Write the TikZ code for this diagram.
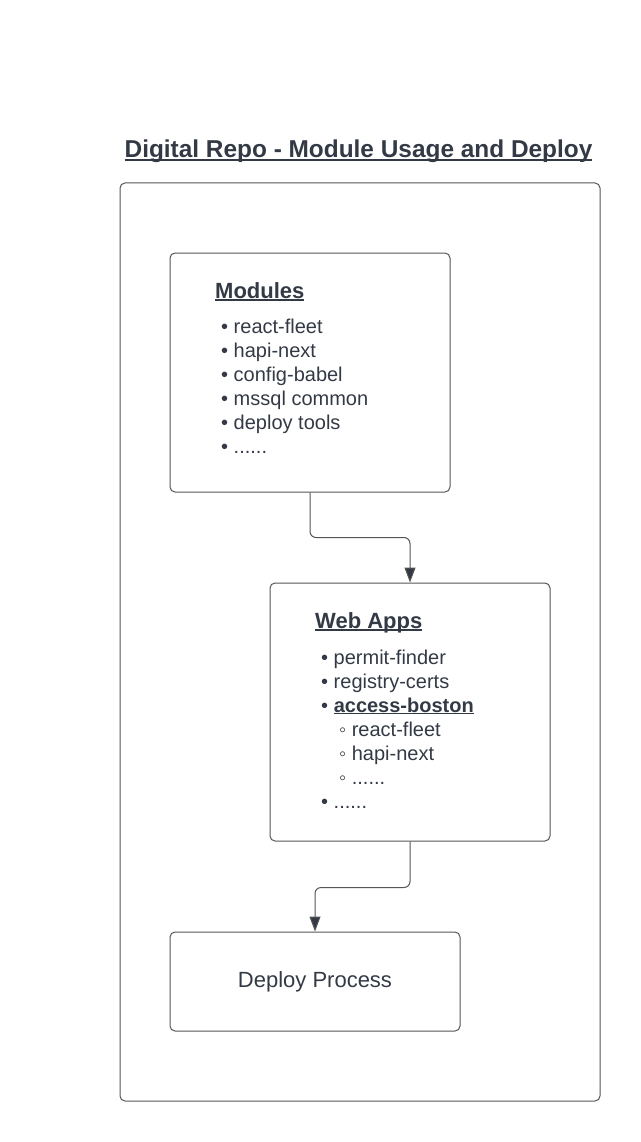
\documentclass[tikz,border=0pt]{standalone}
\usepackage{fontspec}
\setmainfont{Liberation Sans}
\usetikzlibrary{arrows.meta}
\definecolor{ink}{RGB}{51, 58, 69}
\definecolor{frame}{RGB}{85, 85, 85}
\newcommand{\ulined}[1]{\setbox0\hbox{#1}\rlap{\rule[-0.12em]{\wd0}{0.075em}}\box0}
\tikzset{
  panel/.style={draw=frame, line width=1pt, rounded corners=5pt, inner sep=0pt},
  heading/.style={anchor=base west, inner sep=0pt, text=ink, font=\fontsize{22}{26}\selectfont\bfseries},
  item/.style={anchor=base west, inner sep=0pt, text=ink, font=\fontsize{20}{24}\selectfont},
  link/.style={draw=frame, line width=1pt, rounded corners=6pt, -{Triangle[length=15pt, width=11pt, fill=ink]}}
}
\begin{document}
\begin{tikzpicture}[x=1pt, y=-1pt]
  \useasboundingbox (0, 0) rectangle (640, 1142);
  \node[anchor=base, inner sep=0pt, text=ink, font=\fontsize{24.4}{29}\selectfont\bfseries] (title) at (358.5, 158) {\ulined{Digital Repo - Module Usage and Deploy}};
  \node[panel, minimum width=480pt, minimum height=918pt] (outer) at (360, 642) {};
  % modules
  \node[panel, minimum width=280pt, minimum height=239pt] (mods) at (310, 372.5) {};
  \node[heading] (modhead) at (215, 298) {\ulined{Modules}};
  \foreach \t [count=\i] in {react-fleet, hapi-next, config-babel, mssql common, deploy tools}
    \node[item] (mod\i) at (221, 309 + 24*\i) {\textbullet\ \t};
  \node[item] (mod6) at (221, 453) {\textbullet\ ......};
  % web apps
  \node[panel, minimum width=280pt, minimum height=258pt] (web) at (410, 712) {};
  \node[heading] (webhead) at (315, 628) {\ulined{Web Apps}};
  \node[item] (web1) at (321, 664) {\textbullet\ permit-finder};
  \node[item] (web2) at (321, 688) {\textbullet\ registry-certs};
  \node[item] (web3) at (321, 712) {\textbullet\ \ulined{\textbf{access-boston}}};
  \node[item] (web4) at (339, 736) {◦ react-fleet};
  \node[item] (web5) at (339, 760) {◦ hapi-next};
  \node[item] (web6) at (339, 784) {◦ ......};
  \node[item] (web7) at (321, 808) {\textbullet\ ......};
  % deploy
  \node[panel, minimum width=290pt, minimum height=99pt, text=ink, font=\fontsize{22}{26}\selectfont] (deploy) at (315, 981.5) {Deploy Process};
  \draw[link] (mods.south) -- ++(0, 45) -| (web.north);
  \draw[link] (web.south) -- ++(0, 46) -| (deploy.north);
\end{tikzpicture}
\end{document}
